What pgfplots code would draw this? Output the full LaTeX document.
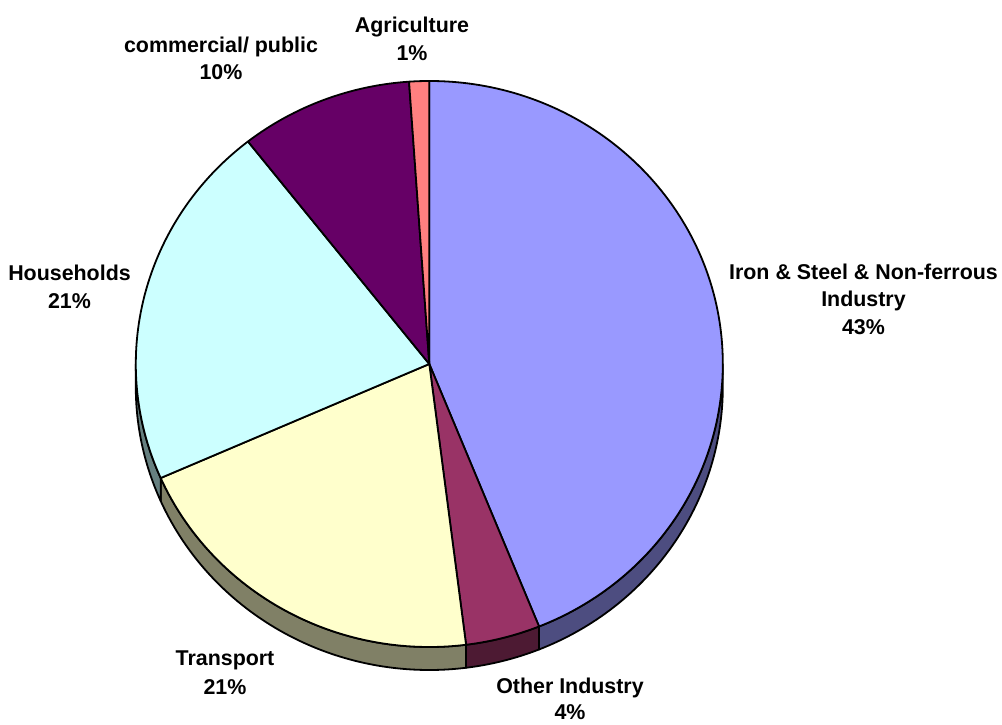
\documentclass[border=0pt]{standalone}
\usepackage{pgfplots}
\pgfplotsset{compat=1.18}
\usepackage{pgfplotstable}
\usepackage{fontspec}
\setmainfont{Liberation Sans}

\definecolor{topA}{HTML}{9999FF}\definecolor{sideA}{HTML}{4D4D80}
\definecolor{topB}{HTML}{993366}\definecolor{sideB}{HTML}{4D1A33}
\definecolor{topC}{HTML}{FFFFCC}\definecolor{sideC}{HTML}{808066}
\definecolor{topD}{HTML}{CCFFFF}\definecolor{sideD}{HTML}{668080}
\definecolor{topE}{HTML}{660066}\definecolor{sideE}{HTML}{330033}
\definecolor{topF}{HTML}{FF8080}\definecolor{sideF}{HTML}{804040}

% share of each sector (%), clockwise from 12 o'clock
\pgfplotstableread{
label value
Iron 43.9
Other 4.1
Transport 20.4
Households 21.0
Commercial 9.5
Agriculture 1.1
}\piedata

\def\cx{429.3}\def\cy{360}\def\rx{293.5}\def\ry{283}\def\dep{23}

\begin{document}
\begin{tikzpicture}
\begin{axis}[name=pie, width=1002bp, height=724bp, scale only axis,
  xmin=0, xmax=1002, ymin=0, ymax=724, hide axis, clip=false]
\pgfplotsextra{
  \xdef\cum{0}
  \foreach \i/\L in {0/A,1/B,2/C,3/D,4/E,5/F}{
    \pgfplotstablegetelem{\i}{value}\of\piedata
    \pgfmathsetmacro\a{90-3.6*\cum}
    \pgfmathsetmacro\b{90-3.6*(\cum+\pgfplotsretval)}
    \pgfmathsetmacro\nc{\cum+\pgfplotsretval}
    \xdef\cum{\nc}
    \expandafter\xdef\csname sa\L\endcsname{\a}
    \expandafter\xdef\csname sb\L\endcsname{\b}
  }
  % side walls
  \foreach \L in {A,B,C,D,E,F}{
    \pgfmathsetmacro\s{min(\csname sa\L\endcsname,0)}
    \pgfmathsetmacro\e{max(\csname sb\L\endcsname,-180)}
    \pgfmathparse{\s>\e ? 1 : 0}
    \ifnum\pgfmathresult=1
      \pgfmathsetmacro\px{\cx+\rx*cos(\s)}
      \pgfmathsetmacro\py{\cy+\ry*sin(\s)}
      \filldraw[fill=side\L, draw=black, line width=1.8bp, line join=round]
        (axis cs:\px,\py) arc[start angle=\s, end angle=\e, x radius=\rx bp, y radius=\ry bp]
        -- ++(0,-\dep bp) arc[start angle=\e, end angle=\s, x radius=\rx bp, y radius=\ry bp] -- cycle;
    \fi
  }
  % top faces
  \foreach \L in {A,B,C,D,E,F}{
    \edef\s{\csname sa\L\endcsname}
    \edef\e{\csname sb\L\endcsname}
    \pgfmathsetmacro\px{\cx+\rx*cos(\s)}
    \pgfmathsetmacro\py{\cy+\ry*sin(\s)}
    \filldraw[fill=top\L, draw=black, line width=1.8bp, line join=round]
      (axis cs:\cx,\cy) -- (axis cs:\px,\py)
      arc[start angle=\s, end angle=\e, x radius=\rx bp, y radius=\ry bp] -- cycle;
  }
}
\tikzset{lab/.style={font=\fontsize{21.4bp}{25bp}\selectfont\bfseries, inner sep=0pt, anchor=base}}
\node[lab] at (axis cs:412,691) {Agriculture};
\node[lab] at (axis cs:412,663) {1\%};
\node[lab] at (axis cs:221,671.3) {commercial/ public};
\node[lab] at (axis cs:221,644) {10\%};
\node[lab] at (axis cs:69.5,443) {Households};
\node[lab] at (axis cs:69.5,415) {21\%};
\node[lab] at (axis cs:863.5,444) {Iron \& Steel \& Non-ferrous};
\node[lab] at (axis cs:863.5,417) {Industry};
\node[lab] at (axis cs:863.5,389.5) {43\%};
\node[lab] at (axis cs:225,58.3) {Transport};
\node[lab] at (axis cs:225,30) {21\%};
\node[lab] at (axis cs:570,31) {Other Industry};
\node[lab] at (axis cs:570,5) {4\%};
\end{axis}
\pgfresetboundingbox
\path (pie.south west) rectangle (pie.north east);
\end{tikzpicture}
\end{document}
